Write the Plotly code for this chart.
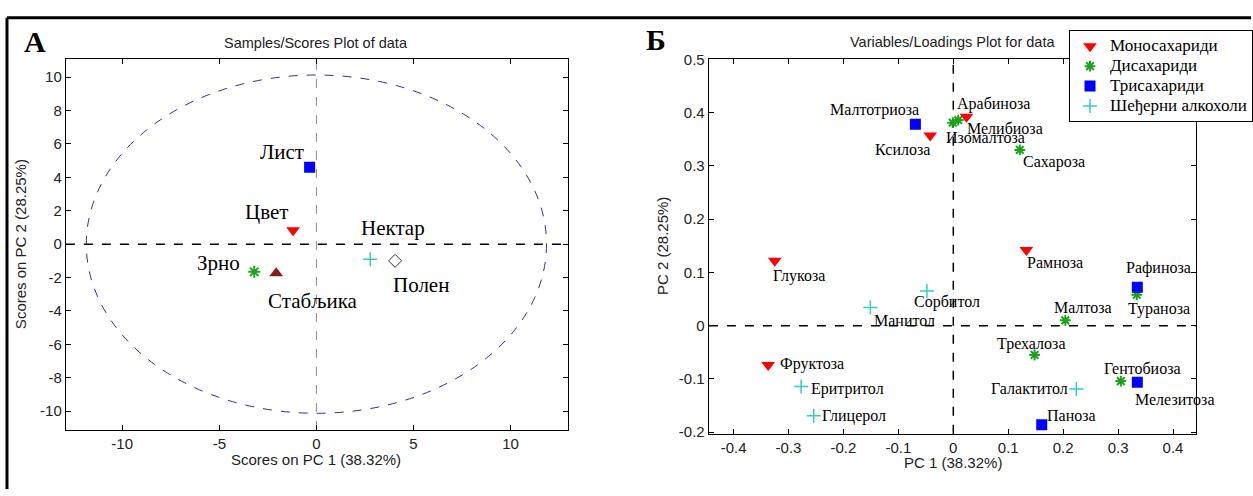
import plotly.graph_objects as go

# ---------------- data ----------------
# Panel A: sample scores
sample_names = ["Лист", "Цвет", "Нектар", "Полен", "Зрно", "Стабљика"]
sample_pc1 = [-0.35, -1.2, 2.77, 4.05, -3.2, -2.07]
sample_pc2 = [4.6, 0.83, -0.9, -1.0, -1.66, -1.75]
# Hotelling ellipse semi-axes (PC1, PC2)
ellipse_pc1 = 11.85
ellipse_pc2 = 10.13

# Panel B: loadings by class
class_names = ["Моносахариди", "Дисахариди", "Трисахариди", "Шеђерни алкохоли"]

mono_names = ["Арабиноза", "Ксилоза", "Рамноза", "Глукоза", "Фруктоза"]
mono_pc1 = [0.024, -0.042, 0.133, -0.325, -0.337]
mono_pc2 = [0.392, 0.357, 0.142, 0.122, -0.074]

di_names = ["Мелибиоза", "Изомалтоза", "Сахароза", "Малтоза", "Трехалоза", "Гентобиоза", "Тураноза"]
di_pc1 = [0.009, -0.001, 0.121, 0.204, 0.148, 0.305, 0.334]
di_pc2 = [0.386, 0.381, 0.330, 0.010, -0.055, -0.104, 0.058]

tri_names = ["Малтотриоза", "Рафиноза", "Мелезитоза", "Паноза"]
tri_pc1 = [-0.069, 0.335, 0.335, 0.161]
tri_pc2 = [0.378, 0.072, -0.106, -0.186]

alc_names = ["Сорбитол", "Манитол", "Еритритол", "Глицерол", "Галактитол"]
alc_pc1 = [-0.048, -0.151, -0.277, -0.254, 0.224]
alc_pc2 = [0.065, 0.034, -0.114, -0.169, -0.119]

# tick values
a_xticks = [-10, -5, 0, 5, 10]
a_yticks = [-10, -8, -6, -4, -2, 0, 2, 4, 6, 8, 10]
b_xticks = [-0.4, -0.3, -0.2, -0.1, 0, 0.1, 0.2, 0.3, 0.4]
b_yticks = [-0.2, -0.1, 0, 0.1, 0.2, 0.3, 0.4, 0.5]

# ---------------- label placement (layout) ----------------
sample_label_pos = {
    "Лист": (-1.76, 5.53), "Цвет": (-2.59, 1.93), "Нектар": (3.94, 0.94),
    "Полен": (5.39, -2.43), "Зрно": (-5.02, -1.13), "Стабљика": (-0.17, -3.4),
}
loading_label_pos = {
    "Арабиноза": (0.074, 0.417), "Ксилоза": (-0.093, 0.331), "Рамноза": (0.185, 0.119),
    "Глукоза": (-0.281, 0.094), "Фруктоза": (-0.257, -0.072),
    "Мелибиоза": (0.094, 0.371), "Изомалтоза": (0.059, 0.353), "Сахароза": (0.183, 0.308),
    "Малтоза": (0.237, 0.035), "Трехалоза": (0.142, -0.034), "Гентобиоза": (0.344, -0.080),
    "Тураноза": (0.374, 0.032),
    "Малтотриоза": (-0.143, 0.404), "Рафиноза": (0.373, 0.108), "Мелезитоза": (0.403, -0.138),
    "Паноза": (0.215, -0.169),
    "Сорбитол": (-0.012, 0.045), "Манитол": (-0.089, 0.009), "Еритритол": (-0.193, -0.118),
    "Глицерол": (-0.180, -0.170), "Галактитол": (0.138, -0.117),
}

# ---------------- styles ----------------
W, H = 1253, 496
RED = "#ff0000"
GREEN = "#1aa31a"
BLUE = "#0000ff"
CYAN = "#33cccc"
SERIF = "Liberation Serif"
SANS = "Liberation Sans"

sample_styles = [
    dict(symbol="square", color=BLUE, size=11, line=dict(width=0)),
    dict(symbol="triangle-down", color=RED, size=12, line=dict(width=0)),
    dict(symbol="cross-thin-open", color=CYAN, size=10, line=dict(width=1.5, color=CYAN)),
    dict(symbol="diamond-open", color="#333333", size=10, line=dict(width=1, color="#333333")),
    dict(symbol="asterisk-open", color=GREEN, size=10, line=dict(width=2, color=GREEN)),
    dict(symbol="triangle-up", color="#8b1c1c", size=12, line=dict(width=0)),
]

class_styles = [
    dict(symbol="triangle-down", color=RED, size=12, line=dict(width=0)),
    dict(symbol="asterisk-open", color=GREEN, size=9, line=dict(width=2, color=GREEN)),
    dict(symbol="square", color=BLUE, size=11, line=dict(width=0)),
    dict(symbol="cross-thin-open", color=CYAN, size=10, line=dict(width=1.5, color=CYAN)),
]

fig = go.Figure()

# Panel A markers
for i, name in enumerate(sample_names):
    fig.add_trace(go.Scatter(
        x=[sample_pc1[i]], y=[sample_pc2[i]], mode="markers", name=name,
        marker=sample_styles[i], showlegend=False, xaxis="x", yaxis="y",
    ))

# Panel B markers
groups = [
    (mono_names, mono_pc1, mono_pc2),
    (di_names, di_pc1, di_pc2),
    (tri_names, tri_pc1, tri_pc2),
    (alc_names, alc_pc1, alc_pc2),
]
for gi, (names, xs, ys) in enumerate(groups):
    fig.add_trace(go.Scatter(
        x=xs, y=ys, mode="markers", text=names,
        name=f"<span style='font-size:17px'>{class_names[gi]}</span>",
        marker=class_styles[gi], showlegend=True, xaxis="x2", yaxis="y2",
    ))

# ---------------- layout geometry ----------------
def px_x(a, b):
    return [a / W, b / W]

def px_y(top, bottom):
    return [(H - bottom) / H, (H - top) / H]

def fmt(v):
    s = f"{v:g}"
    return s.replace("−", "-")

axis_common = dict(
    showline=True, linecolor="black", linewidth=1.3, mirror="ticks",
    ticks="inside", ticklen=5, tickwidth=1, tickcolor="black",
    showgrid=False, zeroline=False,
    tickfont=dict(family=SANS, size=15, color="#222222"),
)

fig.update_layout(
    width=W, height=H, margin=dict(l=0, r=0, t=0, b=0),
    paper_bgcolor="white", plot_bgcolor="white",
    xaxis=dict(domain=px_x(66, 569), range=[-12.9, 12.96], tickvals=a_xticks,
               ticktext=[fmt(v) for v in a_xticks], anchor="y", **axis_common),
    yaxis=dict(domain=px_y(52, 435), range=[-11.13, 11.07], tickvals=a_yticks,
               ticktext=[fmt(v) for v in a_yticks], anchor="x", **axis_common),
    xaxis2=dict(domain=px_x(710, 1198), range=[-0.445, 0.442], tickvals=b_xticks,
                ticktext=[fmt(v) for v in b_xticks], anchor="y2", **axis_common),
    yaxis2=dict(domain=px_y(52, 439), range=[-0.203, 0.5], tickvals=b_yticks,
                ticktext=[fmt(v) for v in b_yticks], anchor="x2", **axis_common),
    legend=dict(
        x=1071 / W, y=1 - 22 / H, xanchor="left", yanchor="top",
        bgcolor="white", bordercolor="black", borderwidth=1,
        font=dict(family=SERIF, size=13, color="black"),
        tracegroupgap=0, itemwidth=30,
    ),
)

shapes = [
    # Panel A ellipse
    dict(type="circle", xref="x", yref="y", x0=-ellipse_pc1, x1=ellipse_pc1,
         y0=-ellipse_pc2, y1=ellipse_pc2, line=dict(color="#30309a", width=1, dash="dash"), layer="below"),
    # Panel A zero lines
    dict(type="line", xref="x domain", yref="y", x0=0, x1=1, y0=0, y1=0,
         line=dict(color="black", width=1.5, dash="dash"), layer="below"),
    dict(type="line", xref="x", yref="y domain", x0=0, x1=0, y0=0, y1=1,
         line=dict(color="#8a8a8a", width=1, dash="dash"), layer="below"),
    # Panel B zero lines
    dict(type="line", xref="x2 domain", yref="y2", x0=0, x1=1, y0=0, y1=0,
         line=dict(color="black", width=1.5, dash="dash"), layer="below"),
    dict(type="line", xref="x2", yref="y2 domain", x0=0, x1=0, y0=0, y1=1,
         line=dict(color="black", width=1.5, dash="dash"), layer="below"),
    # outer frame (top and left)
    dict(type="line", xref="paper", yref="paper", x0=7 / W, x1=1, y0=1 - 9 / H, y1=1 - 9 / H,
         line=dict(color="black", width=3)),
    dict(type="line", xref="paper", yref="paper", x0=7 / W, x1=7 / W, y0=0, y1=1 - 9 / H,
         line=dict(color="black", width=3)),
]
fig.update_layout(shapes=shapes)

ann = []
for name in sample_names:
    lx, ly = sample_label_pos[name]
    ann.append(dict(x=lx, y=ly, xref="x", yref="y", text=name, showarrow=False,
                    font=dict(family=SERIF, size=21, color="black")))
for names, _, _ in groups:
    for name in names:
        lx, ly = loading_label_pos[name]
        ann.append(dict(x=lx, y=ly, xref="x2", yref="y2", text=name, showarrow=False,
                        font=dict(family=SERIF, size=16, color="black")))

def paper_text(text, x, y, size, family=SANS, bold=False, angle=0):
    t = f"<b>{text}</b>" if bold else text
    return dict(x=x / W, y=1 - y / H, xref="paper", yref="paper", text=t, showarrow=False,
                xanchor="center", yanchor="middle", textangle=angle,
                font=dict(family=family, size=size, color="black" if bold else "#222222"))

ann += [
    paper_text("A", 35, 34, 30, family=SERIF, bold=True),
    paper_text("Б", 657, 32, 30, family=SERIF, bold=True),
    paper_text("Samples/Scores Plot of data", 317, 35, 14.5),
    paper_text("Variables/Loadings Plot for data", 954, 34, 14.5),
    paper_text("Scores on PC 1 (38.32%)", 317, 466, 15),
    paper_text("Scores on PC 2 (28.25%)", 20, 243, 15, angle=-90),
    paper_text("PC 1 (38.32%)", 955, 469, 15),
    paper_text("PC 2 (28.25%)", 663, 245, 15, angle=-90),
]
fig.update_layout(annotations=ann)

fig.write_html("out.html")
